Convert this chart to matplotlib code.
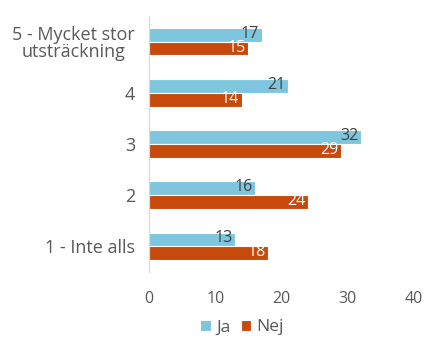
import numpy as np
import matplotlib.pyplot as plt

plt.rcParams['font.family'] = ['Open Sans', 'DejaVu Sans']

categories = ["5 - Mycket stor\nutsträckning", "4", "3", "2", "1 - Inte alls"]
ja = [17, 21, 32, 16, 13]
nej = [15, 14, 29, 24, 18]
xticks = [0, 10, 20, 30, 40]

c_ja = '#7EC6DE'
c_nej = '#C8490C'

fig = plt.figure(figsize=(4.4, 3.52), dpi=100)
ax = fig.add_axes([0.3386, 0.2273, 0.6024, 0.7272])

y = np.arange(len(categories))[::-1]
h = 0.27
b1 = ax.barh(y + h / 2, ja, height=h, color=c_ja, edgecolor='white', linewidth=0.8, label='Ja')
b2 = ax.barh(y - h / 2, nej, height=h, color=c_nej, edgecolor='white', linewidth=0.8, label='Nej')

for bar, v in zip(b1, ja):
    ax.text(v - 0.4, bar.get_y() + bar.get_height() / 2 + 0.02, str(v), ha='right', va='center',
            fontsize=11.5, color='#404040')
for bar, v in zip(b2, nej):
    ax.text(v - 0.4, bar.get_y() + bar.get_height() / 2 + 0.02, str(v), ha='right', va='center',
            fontsize=11.5, color='white')

ax.set_xlim(0, 40)
ax.set_ylim(-0.5, 4.5)
ax.set_xticks(xticks)
ax.set_yticks(y)
ax.set_yticklabels(categories, fontsize=13, color='#595959', linespacing=0.95)
for lab in ax.get_yticklabels():
    lab.set_multialignment('center')
ax.tick_params(axis='y', length=0, pad=10)
ax.tick_params(axis='x', length=0, labelsize=11.5, labelcolor='#595959', pad=14)
for s in ['top', 'right', 'bottom']:
    ax.spines[s].set_visible(False)
ax.spines['left'].set_color('#D9D9D9')

fig.legend(handles=[b1, b2], loc='center', bbox_to_anchor=(0.55, 0.07), ncol=2, frameon=False,
           fontsize=12.5, handlelength=0.6, handleheight=0.6, handletextpad=0.3, columnspacing=0.6,
           labelcolor='#595959')

fig.savefig('out.png', dpi=100)
